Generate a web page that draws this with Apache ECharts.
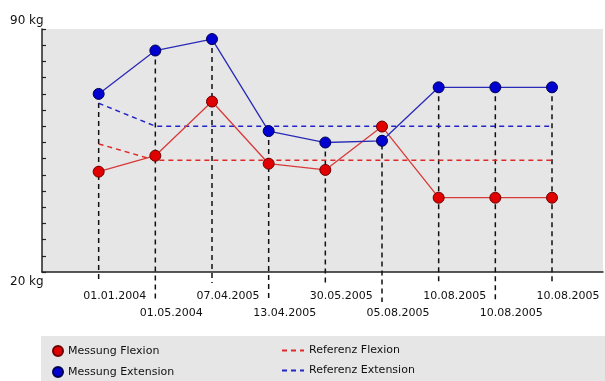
<!DOCTYPE html>
<html><head><meta charset="utf-8">
<script src="https://cdn.jsdelivr.net/npm/echarts@6/dist/echarts.min.js"></script>
<style>html,body{margin:0;padding:0;background:#fff}#c{width:605px;height:381px}</style>
</head><body><div id="c"></div>
<script>
const dates = ['01.01.2004','01.05.2004','07.04.2005','13.04.2005','30.05.2005','05.08.2005','10.08.2005','10.08.2005','10.08.2005'];
const messungFlexion   = [48.9, 53.5, 69.1, 51.2, 49.4, 61.9, 41.4, 41.4, 41.4];
const messungExtension = [71.3, 83.8, 87.1, 60.6, 57.3, 57.8, 73.2, 73.2, 73.2];
const referenzFlexion  = [56.9, 52.2, 52.2, 52.2, 52.2, 52.2, 52.2, 52.2, 52.2];
const referenzExtension= [68.6, 62.0, 62.0, 62.0, 62.0, 62.0, 62.0, 62.0, 62.0];
const yLabelValues = [20, 90];
const yTickCount = 15;

const FONT = 'DejaVu Sans';
const pos = dates.map((d, i) => i + 1);
const toPts = arr => arr.map((v, i) => [pos[i], v]);
const yTicks = Array.from({length: yTickCount + 1}, (_, k) => 20 + k * (90 - 20) / yTickCount);
const row1 = pos.filter((p, i) => i % 2 === 0);
const row2 = pos.filter((p, i) => i % 2 === 1);

const xLabelBase = {
  padding: [0, 0, 0, 32], showMinLabel: true, showMaxLabel: true, hideOverlap: false,
  fontFamily: FONT, fontSize: 11, color: '#111',
  formatter: v => dates[Math.round(v) - 1]
};

const chart = echarts.init(document.getElementById('c'), null, {renderer: 'canvas'});
chart.setOption({
  animation: false,
  backgroundColor: '#fff',
  graphic: [{type: 'rect', left: 41, top: 336, z: 0, shape: {width: 564, height: 45}, style: {fill: '#e6e6e6'}}],
  grid: {left: 42, right: 2, top: 29, bottom: 109, show: true, backgroundColor: '#e6e6e6', borderWidth: 0},
  legend: [
    {left: 52, top: 345, padding: 0, orient: 'vertical', itemWidth: 10, itemHeight: 10, itemGap: 9,
     textStyle: {fontFamily: FONT, fontSize: 11, color: '#111'},
     data: [{name: 'Messung Flexion', icon: 'circle'}, {name: 'Messung Extension', icon: 'circle'}]},
    {left: 281, top: 345, padding: 0, orient: 'vertical', itemWidth: 22, itemHeight: 10, itemGap: 9,
     textStyle: {fontFamily: FONT, fontSize: 11, color: '#111'},
     itemStyle: {opacity: 0},
     data: ['Referenz Flexion', 'Referenz Extension']}
  ],
  xAxis: [
    {
      type: 'value', min: 0, max: 9.9, position: 'bottom',
      axisLine: {show: true, lineStyle: {color: '#222', width: 1.5}},
      axisTick: {show: false}, splitLine: {show: false},
      axisLabel: Object.assign({customValues: row1, margin: 19}, xLabelBase)
    },
    {
      type: 'value', min: 0, max: 9.9, position: 'bottom', offset: 0,
      axisLine: {show: false}, axisTick: {show: false}, splitLine: {show: false},
      axisLabel: Object.assign({customValues: row2, margin: 36}, xLabelBase)
    }
  ],
  yAxis: {
    type: 'value', min: 20, max: 90,
    axisLine: {show: true, lineStyle: {color: '#222', width: 1.5}},
    axisTick: {show: true, inside: true, length: 4, customValues: yTicks, lineStyle: {color: '#222', width: 1.2}},
    splitLine: {show: false},
    axisLabel: {
      customValues: yLabelValues, align: 'left', margin: 32,
      showMinLabel: true, showMaxLabel: true,
      fontFamily: FONT, fontSize: 12, color: '#111',
      formatter: v => v === 90 ? '{t|' + v + ' kg}' : '{b|' + v + ' kg}',
      rich: {t: {fontFamily: FONT, fontSize: 12, color: '#111', padding: [0, 0, 16, 0]},
             b: {fontFamily: FONT, fontSize: 12, color: '#111', padding: [20, 0, 0, 0]}}
    }
  },
  series: [
    {
      name: 'guides', type: 'custom', z: 1, silent: true, clip: false,
      data: pos.map((x, i) => [x, Math.max(messungFlexion[i], messungExtension[i]), i]),
      renderItem: (params, api) => {
        const x = api.value(0), top = api.value(1), idx = api.value(2);
        const p1 = api.coord([x, top]);
        const p0 = api.coord([x, 20]);
        const ext = idx % 2 === 0 ? 11 : 30;
        return {type: 'line', shape: {x1: p1[0], y1: p1[1], x2: p0[0], y2: p0[1] + ext},
                style: {stroke: '#111', lineWidth: 1.5, lineDash: [5, 4]}};
      }
    },
    {name: 'Referenz Flexion', type: 'line', z: 2, data: toPts(referenzFlexion), symbol: 'none',
     itemStyle: {color: '#e02020'}, lineStyle: {color: '#e02828', width: 1.5, type: [5, 4]}},
    {name: 'Referenz Extension', type: 'line', z: 2, data: toPts(referenzExtension), symbol: 'none',
     itemStyle: {color: '#2020d0'}, lineStyle: {color: '#2424c8', width: 1.5, type: [5, 4]}},
    {name: 'Messung Flexion', type: 'line', z: 3, data: toPts(messungFlexion), symbol: 'circle', symbolSize: 11,
     itemStyle: {color: '#e00000', borderColor: '#6a0000', borderWidth: 1},
     lineStyle: {color: '#d83a3a', width: 1.3}},
    {name: 'Messung Extension', type: 'line', z: 3, data: toPts(messungExtension), symbol: 'circle', symbolSize: 11,
     itemStyle: {color: '#0000d0', borderColor: '#000050', borderWidth: 1},
     lineStyle: {color: '#2a2ab8', width: 1.3}}
  ]
});
</script></body></html>
